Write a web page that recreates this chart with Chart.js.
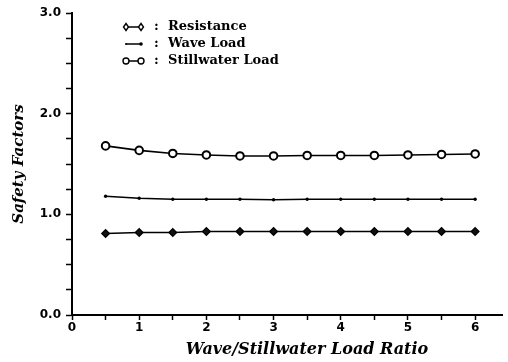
<!DOCTYPE html>
<html>
<head>
<meta charset="utf-8">
<script src="https://cdn.jsdelivr.net/npm/chart.js@4/dist/chart.umd.min.js"></script>
<style>
  html, body { margin: 0; padding: 0; background: #fff; }
  #wrap { width: 508px; height: 362px; }
</style>
</head>
<body>
<div id="wrap"><canvas id="safetyChart" width="508" height="362"></canvas></div>
<script>
// Wave/stillwater load ratio
const ratios = [0.5, 1, 1.5, 2, 2.5, 3, 3.5, 4, 4.5, 5, 5.5, 6];
// Safety factors per load component
const resistance = [0.81, 0.82, 0.82, 0.83, 0.83, 0.83, 0.83, 0.83, 0.83, 0.83, 0.83, 0.83];
const waveLoad = [1.18, 1.16, 1.15, 1.15, 1.15, 1.145, 1.15, 1.15, 1.15, 1.15, 1.15, 1.15];
const stillwaterLoad = [1.68, 1.635, 1.605, 1.59, 1.58, 1.58, 1.585, 1.585, 1.585, 1.59, 1.595, 1.6];
const seriesNames = ["Resistance", "Wave Load", "Stillwater Load"];
const xTitle = "Wave/Stillwater Load Ratio";

const toPoints = (ys) => ratios.map((x, i) => ({ x: x, y: ys[i] }));

const tickFont = { family: "'DejaVu Sans', sans-serif", size: 12, weight: "bold" };
const titleFont = { family: "'DejaVu Serif', serif", size: 15, weight: "bold", style: "italic" };

// Legend in the upper left of the plot: marker-line-marker, colon, name
const innerLegend = {
    id: "innerLegend",
    afterDraw(chart) {
        const ctx = chart.ctx;
        const left = 126, top = 27, rowGap = 17;
        ctx.save();
        ctx.font = "bold 13px 'DejaVu Serif', serif";
        ctx.textBaseline = "middle";
        chart.data.datasets.forEach((ds, i) => {
            const y = top + i * rowGap;
            ctx.strokeStyle = "#000";
            ctx.lineWidth = 1.5;
            ctx.beginPath();
            ctx.moveTo(left, y);
            ctx.lineTo(left + 15, y);
            ctx.stroke();
            [left, left + 15].forEach((px, k) => {
                if (ds.pointStyle === "rectRot") {
                    ctx.beginPath();
                    ctx.moveTo(px, y - 3.5); ctx.lineTo(px + 2.5, y); ctx.lineTo(px, y + 3.5); ctx.lineTo(px - 2.5, y); ctx.closePath();
                    ctx.fillStyle = "#fff"; ctx.fill(); ctx.lineWidth = 1.4; ctx.stroke();
                } else if (ds.pointRadius > 3) {
                    ctx.beginPath();
                    ctx.arc(px, y, 3, 0, Math.PI * 2);
                    ctx.fillStyle = "#fff"; ctx.fill(); ctx.lineWidth = 1.4; ctx.stroke();
                } else {
                    ctx.beginPath();
                    ctx.arc(px, y, k === 0 ? 1 : 1.8, 0, Math.PI * 2);
                    ctx.fillStyle = "#000"; ctx.fill();
                }
            });
            ctx.fillStyle = "#000";
            ctx.fillText(":", left + 28, y);
            ctx.fillText(ds.label, left + 42, y);
        });
        ctx.restore();
    }
};

// X axis title sits a bit right of the plot centre
const xAxisTitle = {
    id: "xAxisTitle",
    afterDraw(chart) {
        const ctx = chart.ctx;
        ctx.save();
        ctx.font = "italic bold 16px 'DejaVu Serif', serif";
        ctx.fillStyle = "#000";
        ctx.textAlign = "center";
        ctx.textBaseline = "middle";
        ctx.fillText(xTitle, 307, 350);
        ctx.restore();
    }
};

const config = {
    type: "line",
    data: {
        datasets: [
            {
                label: seriesNames[0],
                data: toPoints(resistance),
                borderColor: "#000",
                borderWidth: 1.6,
                pointStyle: "rectRot",
                pointRadius: 3.8,
                pointBackgroundColor: "#111",
                pointBorderColor: "#000",
                pointBorderWidth: 1.3,
                tension: 0,
            },
            {
                label: seriesNames[1],
                data: toPoints(waveLoad),
                borderColor: "#000",
                borderWidth: 1.6,
                pointStyle: "circle",
                pointRadius: 1.7,
                pointBackgroundColor: "#000",
                pointBorderColor: "#000",
                pointBorderWidth: 0,
                tension: 0,
            },
            {
                label: seriesNames[2],
                data: toPoints(stillwaterLoad),
                borderColor: "#000",
                borderWidth: 1.6,
                pointStyle: "circle",
                pointRadius: 3.8,
                pointBackgroundColor: "#fff",
                pointBorderColor: "#000",
                pointBorderWidth: 2,
                tension: 0,
            },
        ],
    },
    options: {
        responsive: false,
        animation: false,
        layout: { padding: { top: 13, right: 3, left: 0, bottom: 0 } },
        plugins: {
            legend: { display: false },
            tooltip: { enabled: false },
        },
        scales: {
            x: {
                type: "linear",
                min: 0,
                max: 6.4,
                afterFit: (scale) => { scale.height = 47; },
                border: { display: true, color: "#000", width: 2 },
                grid: { drawOnChartArea: false, drawTicks: true, tickLength: 5, tickColor: "#000", tickWidth: 1.5 },
                ticks: {
                    stepSize: 0.5,
                    includeBounds: false,
                    autoSkip: false,
                    color: "#000",
                    font: tickFont,
                    padding: 1,
                    maxRotation: 0,
                    callback: (v) => (Number.isInteger(v) ? String(v) : ""),
                },
                title: { display: false },
            },
            y: {
                min: 0,
                max: 3,
                afterFit: (scale) => { scale.width = 72; },
                border: { display: true, color: "#000", width: 2 },
                grid: { drawOnChartArea: false, drawTicks: true, tickLength: 6, tickColor: "#000", tickWidth: 1.5 },
                ticks: {
                    stepSize: 0.25,
                    autoSkip: false,
                    color: "#000",
                    font: tickFont,
                    padding: 5,
                    callback: (v) => (Number.isInteger(v) ? v.toFixed(1) : ""),
                },
                title: {
                    display: true,
                    text: "Safety Factors",
                    color: "#000",
                    font: titleFont,
                    padding: { top: 10, bottom: 0 },
                },
            },
        },
    },
    plugins: [innerLegend, xAxisTitle],
};

// Draw the chart
const safetyChart = new Chart(document.getElementById("safetyChart"), config);
</script>
</body>
</html>
